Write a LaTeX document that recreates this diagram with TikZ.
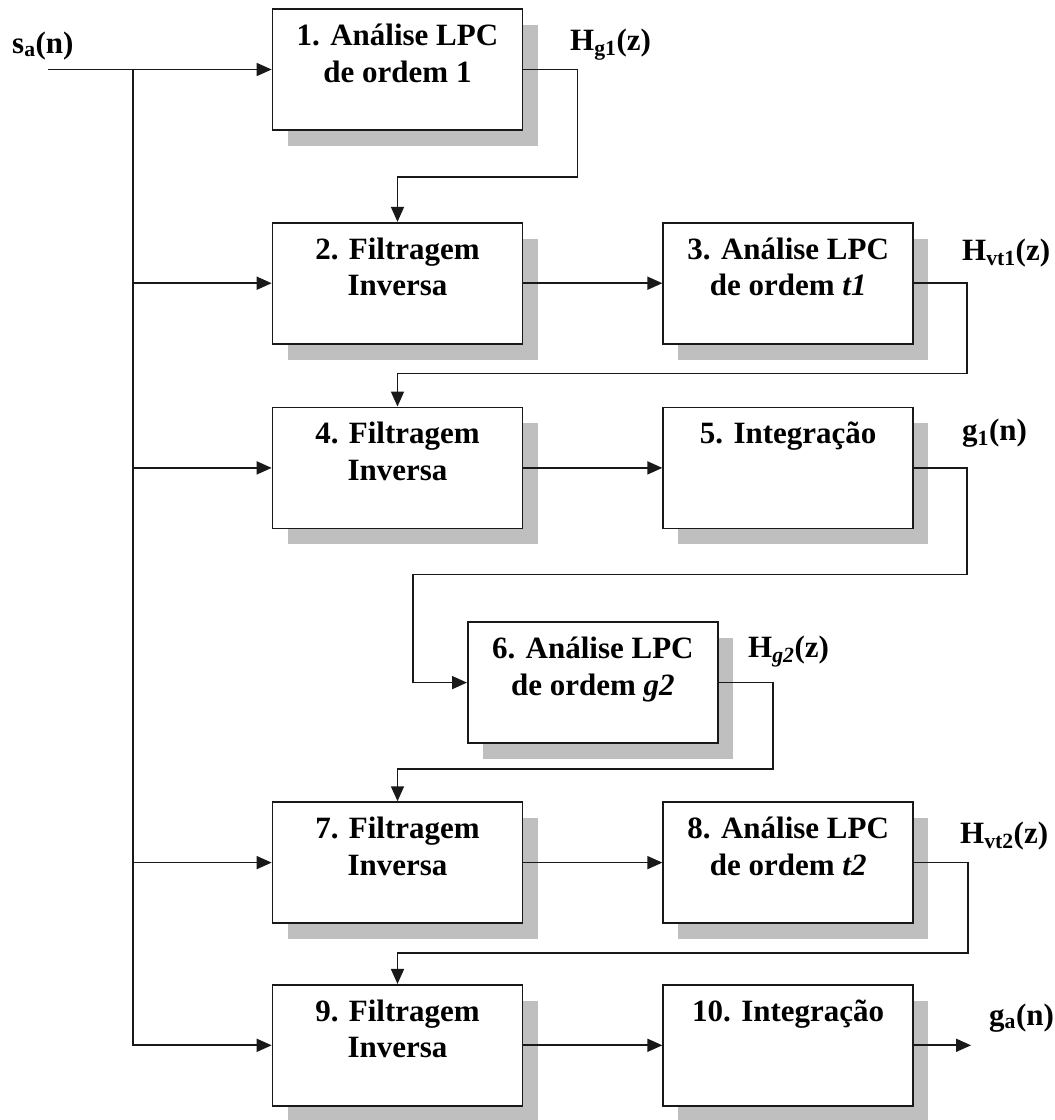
\documentclass[tikz,border=0pt]{standalone}
\usepackage{fontspec}
\setmainfont{Liberation Serif}
\usetikzlibrary{arrows.meta,positioning,calc,shadows}
\tikzset{
	blockbox/.style={rectangle, draw=black!90, line width=1.7pt, fill=white, inner sep=0pt,
		drop shadow={shadow xshift=15pt, shadow yshift=-16pt, fill=black!25, opacity=1},
		font=\fontsize{31}{36.5}\selectfont\bfseries},
	flowarr/.style={-{Triangle[length=15pt,width=13pt]}, line width=1.7pt, draw=black!90},
	siglabel/.style={font=\fontsize{31}{36}\selectfont\bfseries, inner sep=0pt, anchor=base west}
}
\newcommand{\blocktext}[2]{\parbox[c][121pt][t]{250pt}{\centering\vspace*{11pt}\strut#1\\\strut#2}}

\begin{document}
\begin{tikzpicture}[x=1pt, y=-1pt]
			\useasboundingbox (0,0) rectangle (1055,1120);
			\node[blockbox] (b1) at (397.5,69.5) {\blocktext{1. Análise LPC}{de ordem 1}};
			\node[blockbox, below=91pt of b1] (b2) {\blocktext{2. Filtragem}{Inversa}};
			\node[blockbox, right=139pt of b2] (b3) {\blocktext{3. Análise LPC}{de ordem \textit{t1}}};
			\node[blockbox, below=62pt of b2] (b4) {\blocktext{4. Filtragem}{Inversa}};
			\node[blockbox, right=139pt of b4] (b5) {\blocktext{5. Integração}{}};
			\coordinate (mid45) at ($(b4.south)!0.5!(b5.south)$);
			\node[blockbox, below=92pt of mid45] (b6) {\blocktext{6. Análise LPC}{de ordem \textit{g2}}};
			\node[blockbox, below=272pt of b4] (b7) {\blocktext{7. Filtragem}{Inversa}};
			\node[blockbox, right=139pt of b7] (b8) {\blocktext{8. Análise LPC}{de ordem \textit{t2}}};
			\node[blockbox, below=60pt of b7] (b9) {\blocktext{9. Filtragem}{Inversa}};
			\node[blockbox, right=139pt of b9] (b10) {\blocktext{10. Integração}{}};
			\node[siglabel] (sa) at (12,53) {s\textsubscript{a}(n)};
			\node[siglabel] (hg1) at (570,50) {H\textsubscript{g1}(z)};
			\node[siglabel] (hvt1) at (962,260) {H\textsubscript{vt1}(z)};
			\node[siglabel] (g1) at (962,440) {g\textsubscript{1}(n)};
			\node[siglabel] (hg2) at (748,657) {H\textsubscript{\textit{g2}}(z)};
			\node[siglabel] (hvt2) at (960,843) {H\textsubscript{vt2}(z)};
			\node[siglabel] (ga) at (989,1025) {g\textsubscript{a}(n)};
			\coordinate (src) at (48,69.5);
			\coordinate (bustop) at (133,69.5);
			\coordinate (gaout) at ($(b10.east)+(57,0)$);
			\draw[flowarr] (src) -- (b1.west);
			\draw[flowarr] (bustop) |- (b9.west);
			\draw[flowarr] (bustop |- b2.west) -- (b2.west);
			\draw[flowarr] (bustop |- b4.west) -- (b4.west);
			\draw[flowarr] (bustop |- b7.west) -- (b7.west);
			\draw[flowarr] (b1.east) -- ++(54,0) |- ($(b2.north)+(0,-45)$) -- (b2.north);
			\draw[flowarr] (b2) -- (b3);
			\draw[flowarr] (b3.east) -- ++(53,0) |- ($(b4.north)+(0,-33)$) -- (b4.north);
			\draw[flowarr] (b4) -- (b5);
			\draw[flowarr] (b5.east) -- ++(53,0) |- ($(b6.west)+(-54,-108)$) |- (b6.west);
			\draw[flowarr] (b6.east) -- ++(54,0) |- ($(b7.north)+(0,-32)$) -- (b7.north);
			\draw[flowarr] (b7) -- (b8);
			\draw[flowarr] (b8.east) -- ++(54,0) |- ($(b9.north)+(0,-31)$) -- (b9.north);
			\draw[flowarr] (b9) -- (b10);
			\draw[flowarr] (b10) -- (gaout);
		\end{tikzpicture}
\end{document}
